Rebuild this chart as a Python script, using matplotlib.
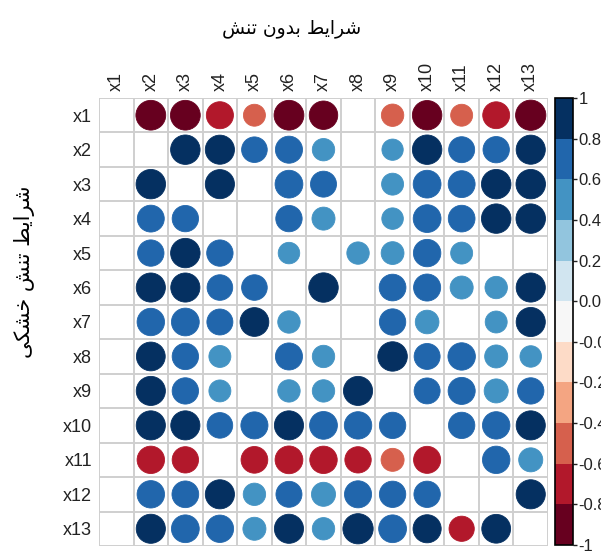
import numpy as np
import matplotlib
matplotlib.use("Agg")
import matplotlib.pyplot as plt
from matplotlib.colors import ListedColormap, BoundaryNorm
from matplotlib.patches import Circle
from matplotlib.colorbar import ColorbarBase

labels = ["x1", "x2", "x3", "x4", "x5", "x6", "x7", "x8", "x9", "x10", "x11", "x12", "x13"]

nan = np.nan
# upper rows: no-stress condition, lower rows: drought stress (blank = not significant)
corr = np.array([
    [nan, -0.92, -0.92, -0.76, -0.50, -0.92, -0.84, nan, -0.52, -0.90, -0.50, -0.75, -0.95],
    [nan, nan, 0.90, 0.88, 0.68, 0.76, 0.52, nan, 0.47, 0.90, 0.70, 0.72, 0.88],
    [nan, 0.90, nan, 0.88, nan, 0.80, 0.70, nan, 0.50, 0.80, 0.75, 0.90, 0.90],
    [nan, 0.75, 0.72, nan, nan, 0.72, 0.55, nan, 0.48, 0.80, 0.74, 0.90, 0.90],
    [nan, 0.72, 0.90, 0.72, nan, 0.48, nan, 0.52, 0.54, 0.78, 0.50, nan, nan],
    [nan, 0.88, 0.88, 0.68, 0.68, nan, 0.90, nan, 0.74, 0.76, 0.55, 0.52, 0.88],
    [nan, 0.78, 0.80, 0.70, 0.86, 0.52, nan, nan, 0.72, 0.58, nan, 0.50, 0.88],
    [nan, 0.86, 0.72, 0.50, nan, 0.76, 0.52, nan, 0.90, 0.70, 0.78, 0.55, 0.48],
    [nan, 0.88, 0.72, 0.50, nan, 0.52, 0.52, 0.88, nan, 0.70, 0.76, 0.60, 0.72],
    [nan, 0.88, 0.88, 0.68, 0.76, 0.88, 0.80, 0.78, 0.72, nan, 0.72, 0.78, 0.88],
    [nan, -0.78, -0.72, nan, -0.74, -0.80, -0.78, -0.72, -0.55, -0.76, nan, 0.78, 0.60],
    [nan, 0.78, 0.74, 0.88, 0.52, 0.70, 0.60, 0.76, 0.72, 0.72, nan, nan, 0.88],
    [nan, 0.88, 0.80, 0.78, 0.55, 0.88, 0.52, 0.95, 0.80, 0.82, -0.66, 0.86, nan],
])

title_text = "شرایط بدون تنش"
ylabel_text = "شرایط تنش خشکی"

# Arabic presentation forms: isolated, final, initial, medial
FORMS = {
    "ا": "\ufe8d\ufe8e",
    "ب": "\ufe8f\ufe90\ufe91\ufe92",
    "ت": "\ufe95\ufe96\ufe97\ufe98",
    "خ": "\ufea5\ufea6\ufea7\ufea8",
    "د": "\ufea9\ufeaa",
    "ر": "\ufead\ufeae",
    "ش": "\ufeb5\ufeb6\ufeb7\ufeb8",
    "ط": "\ufec1\ufec2\ufec3\ufec4",
    "ن": "\ufee5\ufee6\ufee7\ufee8",
    "و": "\ufeed\ufeee",
    "ک": "\ufb8e\ufb8f\ufb90\ufb91",
    "ی": "\ufbfc\ufbfd\ufbfe\ufbff",
}


def farsi(text):
    # join letters and put them in display order, since matplotlib does no shaping
    words = []
    for word in text.split(" "):
        out = ""
        for i, ch in enumerate(word):
            f = FORMS[ch]
            prev_j = i > 0 and len(FORMS[word[i - 1]]) == 4
            next_j = i < len(word) - 1 and len(f) == 4
            idx = {(False, False): 0, (True, False): 1,
                   (False, True): 2, (True, True): 3}[(prev_j, next_j)]
            out += f[idx]
        words.append(out)
    return " ".join(words)[::-1]


colors = ["#67001f", "#b2182b", "#d6604d", "#f4a582", "#fddbc7", "#f7f7f7",
          "#d1e5f0", "#92c5de", "#4393c3", "#2166ac", "#053061"]
cmap = ListedColormap(colors)
bounds = np.linspace(-1, 1, 12)
norm = BoundaryNorm(bounds, cmap.N)

plt.rcParams["font.family"] = ["Liberation Sans", "DejaVu Sans"]

fig = plt.figure(figsize=(6.01, 5.52), dpi=100)
ax = fig.add_axes([99 / 601, 6 / 552, 449 / 601, 448 / 552])

n = len(labels)
for i in range(n):
    for j in range(n):
        v = corr[i, j]
        if np.isnan(v):
            continue
        r = 0.45 * np.sqrt(abs(v))
        c = cmap(norm(v))
        ax.add_patch(Circle((j + 0.5, i + 0.5), r, facecolor=c, edgecolor=c, lw=0.6))

grid_c = "#cfcfcf"
for k in range(n + 1):
    ax.axhline(k, color=grid_c, lw=1.4, zorder=0)
    ax.axvline(k, color=grid_c, lw=1.4, zorder=0)

ax.set_xlim(0, n)
ax.set_ylim(n, 0)
ax.set_aspect("auto")
for s in ax.spines.values():
    s.set_visible(False)
ax.set_xticks(np.arange(n) + 0.5)
ax.set_yticks(np.arange(n) + 0.5)
ax.set_xticklabels(labels, rotation=90, fontsize=13)
ax.set_yticklabels(labels, fontsize=13)
ax.xaxis.tick_top()
ax.tick_params(length=0, pad=5, colors="#222222")

cax = fig.add_axes([555 / 601, 7 / 552, 18 / 601, 447 / 552])
cb = ColorbarBase(cax, cmap=cmap, norm=norm, boundaries=bounds, ticks=bounds)
cb.set_ticklabels([f"{b:.2f}".rstrip("0").rstrip(".") if abs(b) == 1 else f"{b:.2f}" for b in bounds])
cb.outline.set_linewidth(1.2)
cax.tick_params(length=3, width=1, pad=1, labelsize=12, colors="#222222")

fig.text(292 / 601, 1 - 29 / 552, farsi(title_text), fontsize=13.5,
         family="DejaVu Sans", ha="center", va="center")
fig.text(25 / 601, 1 - 272 / 552, farsi(ylabel_text), fontsize=15,
         family="DejaVu Sans", ha="center", va="center", rotation=90)

fig.savefig("out.png", dpi=100)
